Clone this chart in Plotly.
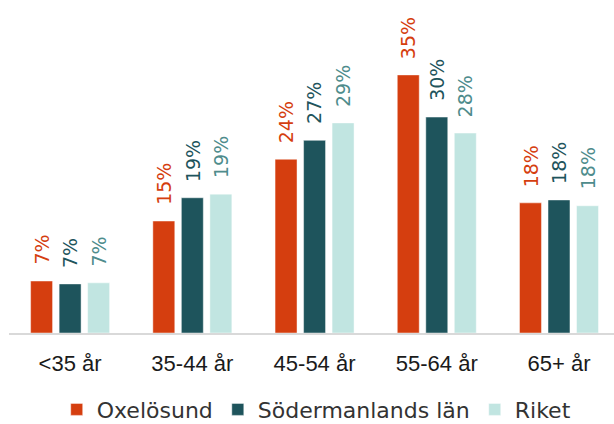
import plotly.graph_objects as go

categories = ["<35 år", "35-44 år", "45-54 år", "55-64 år", "65+ år"]
series_names = ["Oxelösund", "Södermanlands län", "Riket"]
oxelosund = [7.15, 15.4, 23.9, 35.5, 17.9]
sodermanland = [6.75, 18.6, 26.5, 29.7, 18.3]
riket = [6.9, 19.1, 28.9, 27.5, 17.5]
labels_oxelosund = ["7%", "15%", "24%", "35%", "18%"]
labels_sodermanland = ["7%", "19%", "27%", "30%", "18%"]
labels_riket = ["7%", "19%", "29%", "28%", "18%"]

bar_colors = ["#D53E0F", "#1E545C", "#C1E5E1"]
label_colors = ["#D53E0F", "#1E545C", "#4E8C8C"]
values = [oxelosund, sodermanland, riket]
labels = [labels_oxelosund, labels_sodermanland, labels_riket]

x_idx = list(range(len(categories)))
bargap = 0.30
bargroupgap = 0.23
slot = (1 - bargap) / 3

fig = go.Figure()
for j in range(3):
    fig.add_trace(go.Bar(
        x=x_idx, y=values[j], name=series_names[j],
        marker=dict(color=bar_colors[j], line=dict(color="rgba(255,255,255,0.45)", width=1)),
        hoverinfo="skip",
    ))

annotations = []
for j in range(3):
    for i in x_idx:
        annotations.append(dict(
            x=i + (j - 1) * slot, y=values[j][i], xref="x", yref="y",
            text=labels[j][i], textangle=-90, showarrow=False,
            xanchor="center", yanchor="bottom", yshift=14,
            font=dict(family="DejaVu Sans", size=19, color=label_colors[j]),
        ))

fig.update_layout(
    width=614, height=424,
    margin=dict(l=9, r=0, t=10, b=91),
    paper_bgcolor="white", plot_bgcolor="white",
    barmode="group", bargap=bargap, bargroupgap=bargroupgap,
    annotations=annotations,
    showlegend=True,
    legend=dict(
        orientation="h", xref="container", yref="container",
        x=0.515, xanchor="center", y=0.034, yanchor="middle",
        font=dict(family="DejaVu Sans", size=22, color="#333333"),
        traceorder="normal", itemclick=False,
    ),
    xaxis=dict(
        tickmode="array", tickvals=x_idx, ticktext=categories,
        range=[-0.5, 4.45], showgrid=False, zeroline=False,
        showline=True, linecolor="#D9D9D9", linewidth=2,
        ticks="", ticklabelstandoff=10,
        tickfont=dict(family="Liberation Sans", size=22, color="#1a1a1a"),
        fixedrange=True,
    ),
    yaxis=dict(
        range=[0, 44.43], visible=False, showgrid=False, zeroline=False,
        fixedrange=True,
    ),
)

fig.write_html(
    "out.html",
    config={"displayModeBar": False},
    post_script="document.body.style.margin='0';document.body.style.overflow='hidden';",
)
